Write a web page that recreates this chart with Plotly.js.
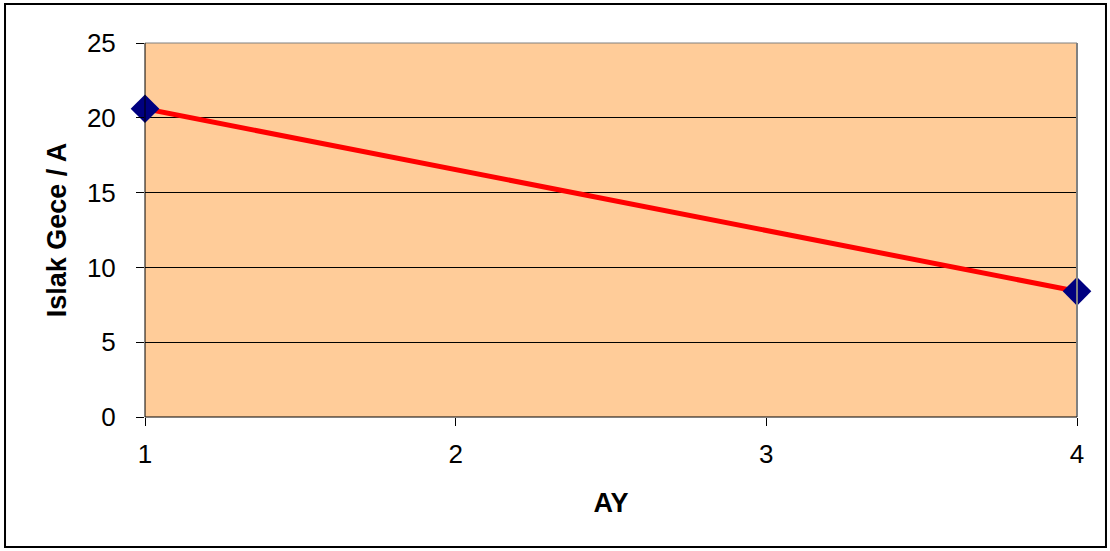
<!DOCTYPE html>
<html>
<head>
<meta charset="utf-8">
<script src="https://cdn.plot.ly/plotly-3.0.1.min.js"></script>
<style>
html,body{margin:0;padding:0;background:#fff;}
#chart{width:1110px;height:551px;}
</style>
</head>
<body>
<div id="chart"></div>
<script>
const months = [1, 4];
const values = [20.6, 8.4];
const xTicks = [1, 2, 3, 4];
const yTicks = [0, 5, 10, 15, 20, 25];

const trace = {
  x: months,
  y: values,
  type: 'scatter',
  mode: 'lines+markers',
  line: {color: '#FF0000', width: 5},
  marker: {symbol: 'diamond', size: 22, color: '#000080'},
  cliponaxis: false,
  showlegend: false
};

const layout = {
  width: 1110,
  height: 551,
  margin: {l: 145, r: 33, t: 43, b: 134},
  paper_bgcolor: '#FFFFFF',
  plot_bgcolor: '#FFCC99',
  font: {family: 'Liberation Sans, Arial, sans-serif', size: 26, color: '#000'},
  xaxis: {
    range: [1, 4],
    tickvals: xTicks,
    ticktext: xTicks.map(String),
    ticks: 'outside',
    ticklen: 8,
    tickcolor: '#000',
    ticklabelstandoff: 6,
    showgrid: false,
    zeroline: false,
    showline: false,
    title: {text: '<b>AY</b>', font: {size: 27}, standoff: 24}
  },
  yaxis: {
    range: [0, 25],
    tickvals: yTicks,
    ticks: 'outside',
    ticklen: 8,
    tickcolor: '#000',
    ticklabelstandoff: 15,
    showgrid: true,
    gridcolor: '#000',
    gridwidth: 1,
    zeroline: false,
    showline: false,
    title: {text: '<b>Islak Gece / A</b>', font: {size: 27}, standoff: 12}
  },
  shapes: [
    {type: 'line', xref: 'paper', yref: 'paper', x0: 0, x1: 1, y0: 1, y1: 1, line: {color: '#808080', width: 1}},
    {type: 'line', xref: 'paper', yref: 'paper', x0: 1, x1: 1, y0: 0, y1: 1, line: {color: '#808080', width: 2}},
    {type: 'line', xref: 'paper', yref: 'paper', x0: 0, x1: 0, y0: 0, y1: 1, line: {color: '#000', width: 1}},
    {type: 'line', xref: 'paper', yref: 'paper', x0: 0, x1: 1, y0: 0, y1: 0, line: {color: '#000', width: 1}},
    {type: 'rect', xref: 'paper', yref: 'paper', x0: -0.1502, x1: 1.0311, y0: -0.3476, y1: 1.1043, line: {color: '#000', width: 2}, layer: 'below'}
  ]
};

Plotly.newPlot('chart', [trace], layout, {displayModeBar: false, staticPlot: true});
</script>
</body>
</html>
